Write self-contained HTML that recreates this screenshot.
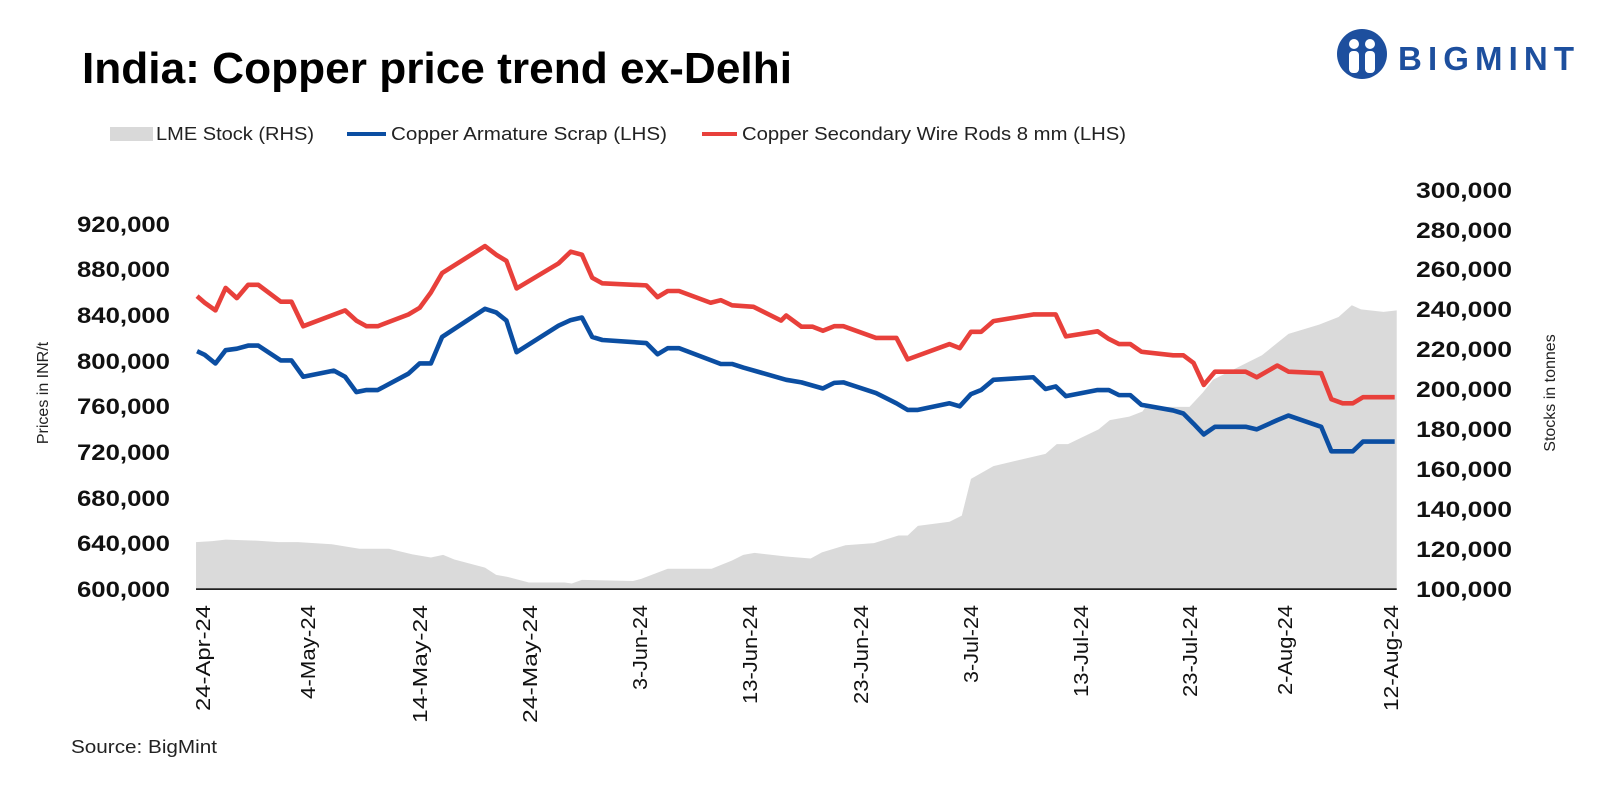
<!DOCTYPE html>
<html><head><meta charset="utf-8"><style>
html,body{margin:0;padding:0;background:#fff;}
svg{display:block;font-family:"Liberation Sans",Arial,sans-serif;}
</style></head><body>
<svg width="1600" height="794" viewBox="0 0 1600 794" xmlns="http://www.w3.org/2000/svg">
<text x="82" y="83" font-size="44" font-weight="bold" fill="#000" textLength="710" lengthAdjust="spacingAndGlyphs">India: Copper price trend ex-Delhi</text>
<g fill="#1d4f9e">
<circle cx="1362" cy="54" r="25"/>
<circle cx="1354" cy="44" r="5" fill="#fff"/><circle cx="1370" cy="44" r="5" fill="#fff"/>
<rect x="1349" y="51" width="10" height="22" rx="4" fill="#fff"/><rect x="1365" y="51" width="10" height="22" rx="4" fill="#fff"/>
<text x="1398" y="70" font-size="33" font-weight="bold" textLength="176" lengthAdjust="spacing">BIGMINT</text>
</g>
<rect x="110" y="127" width="43" height="14" fill="#d9d9d9"/>
<text x="156" y="140" font-size="18" fill="#222" textLength="158" lengthAdjust="spacingAndGlyphs">LME Stock (RHS)</text>
<line x1="347" y1="134" x2="386" y2="134" stroke="#0b4ea2" stroke-width="4"/>
<text x="391" y="140" font-size="18" fill="#222" textLength="276" lengthAdjust="spacingAndGlyphs">Copper Armature Scrap (LHS)</text>
<line x1="702" y1="134" x2="737" y2="134" stroke="#e8403b" stroke-width="4"/>
<text x="742" y="140" font-size="18" fill="#222" textLength="384" lengthAdjust="spacingAndGlyphs">Copper Secondary Wire Rods 8 mm (LHS)</text>
<g transform="scale(1.021)">
<polygon fill="#dadada" points="192,577 192,531 208,530 221,528.5 251,529.5 273,531 292,531 325,533 352,537.5 381,537.5 404,543 422,546 434,543.5 445,548 475,556 486,563 497,565 518,570.5 553,570.5 560,571.5 570,568 620,569 628,567 654,557 697,557 717,549 728,543.5 739,541.5 770,545 794,547 805,541 828,534 856,532 880,524.5 889,524.5 899,515 930,511 942,505 951,469 973,456.5 1024,444.5 1035,435 1046,435 1076,420.5 1087,411.5 1106,408 1119,403 1122,398.5 1165,398.5 1178,384.5 1188,372 1236,348 1262,327 1292,318 1311,310.5 1324,299 1333,303 1355,305.5 1368,304 1368,577"/>
<line x1="192" y1="577" x2="1368" y2="577" stroke="#000" stroke-width="1.5"/>
<polyline fill="none" stroke="#e8403b" stroke-width="4.5" stroke-linejoin="round" points="193,290 200.5,296.5 211,304 221,282 232,292 243,279 253,279 275,295.5 285.5,295.5 297,319.5 338,304 349,314 359,319.5 370,319.5 400,308 411,301.5 422,286.5 433,267.5 475,241 486,249.5 496,255.5 506,282.5 547,258 559,246.5 570,249.5 580,272 590,277.5 633,279.5 644,291 654,285 665,285 696,296.5 706,294 717,299 738,300.5 765,314 770,309 785,320 796,320 806,324 817,319.5 826,319.5 858,331 878,331 889,352 930,337 940,341 951,325 961,325 973,314.5 1012,308 1034,308 1044,329.5 1075,324.5 1086,332 1096,337 1107,337 1118,344.5 1149,348 1159,348 1169,355.5 1179,377 1190,364 1220,364 1231,369.5 1251,358 1262,364 1294,365.5 1304,391 1315,395 1325,395 1335,389 1366,389"/>
<polyline fill="none" stroke="#0b4ea2" stroke-width="4.5" stroke-linejoin="round" points="193,344 200.5,347.5 211,356 221,343 232,341.5 243,338.5 253,338.5 275,353 285.5,353 297,369 327,363 338,369 349,384 359,382 370,382 400,366 411,356 422,356 433,330 475,302.5 486,306 496,314 506,345 547,319 559,313.5 570,311 580,330 590,333 633,336 644,347 654,341 665,341 706,356.5 717,356.5 728,360 770,372 785,374.5 806,380.5 817,375 826,374.5 858,385 878,395 889,401.5 899,401.5 930,395 940,398 951,386 961,382 973,372 1012,369.5 1024,381 1034,378.5 1044,388 1075,382 1086,382 1096,387 1107,387 1118,396.5 1149,402 1159,405 1169,415 1179,425.5 1190,418 1220,418 1231,420.5 1251,411.5 1262,407 1294,418 1304,442 1325,442 1335,432.5 1366,432.5"/>
</g>
<g font-size="22" font-weight="bold" fill="#111">
<text x="77" y="597" textLength="93" lengthAdjust="spacingAndGlyphs">600,000</text>
<text x="77" y="551" textLength="93" lengthAdjust="spacingAndGlyphs">640,000</text>
<text x="77" y="506" textLength="93" lengthAdjust="spacingAndGlyphs">680,000</text>
<text x="77" y="460" textLength="93" lengthAdjust="spacingAndGlyphs">720,000</text>
<text x="77" y="414" textLength="93" lengthAdjust="spacingAndGlyphs">760,000</text>
<text x="77" y="369" textLength="93" lengthAdjust="spacingAndGlyphs">800,000</text>
<text x="77" y="323" textLength="93" lengthAdjust="spacingAndGlyphs">840,000</text>
<text x="77" y="277" textLength="93" lengthAdjust="spacingAndGlyphs">880,000</text>
<text x="77" y="232" textLength="93" lengthAdjust="spacingAndGlyphs">920,000</text>
</g>
<g font-size="22" font-weight="bold" fill="#111">
<text x="1416" y="597" textLength="96" lengthAdjust="spacingAndGlyphs">100,000</text>
<text x="1416" y="557" textLength="96" lengthAdjust="spacingAndGlyphs">120,000</text>
<text x="1416" y="517" textLength="96" lengthAdjust="spacingAndGlyphs">140,000</text>
<text x="1416" y="477" textLength="96" lengthAdjust="spacingAndGlyphs">160,000</text>
<text x="1416" y="437" textLength="96" lengthAdjust="spacingAndGlyphs">180,000</text>
<text x="1416" y="397" textLength="96" lengthAdjust="spacingAndGlyphs">200,000</text>
<text x="1416" y="357" textLength="96" lengthAdjust="spacingAndGlyphs">220,000</text>
<text x="1416" y="317" textLength="96" lengthAdjust="spacingAndGlyphs">240,000</text>
<text x="1416" y="277" textLength="96" lengthAdjust="spacingAndGlyphs">260,000</text>
<text x="1416" y="238" textLength="96" lengthAdjust="spacingAndGlyphs">280,000</text>
<text x="1416" y="198" textLength="96" lengthAdjust="spacingAndGlyphs">300,000</text>
</g>
<text transform="translate(48,393) rotate(-90)" font-size="16" fill="#222" text-anchor="middle">Prices in INR/t</text>
<text transform="translate(1555,393) rotate(-90)" font-size="16" fill="#222" text-anchor="middle">Stocks in tonnes</text>
<g font-size="20" fill="#111" text-anchor="end">
<text transform="translate(210,605) rotate(-90)" textLength="106" lengthAdjust="spacingAndGlyphs">24-Apr-24</text>
<text transform="translate(315,605) rotate(-90)" textLength="94" lengthAdjust="spacingAndGlyphs">4-May-24</text>
<text transform="translate(427,605) rotate(-90)" textLength="118" lengthAdjust="spacingAndGlyphs">14-May-24</text>
<text transform="translate(537,605) rotate(-90)" textLength="118" lengthAdjust="spacingAndGlyphs">24-May-24</text>
<text transform="translate(647,605) rotate(-90)" textLength="85" lengthAdjust="spacingAndGlyphs">3-Jun-24</text>
<text transform="translate(757,605) rotate(-90)" textLength="99" lengthAdjust="spacingAndGlyphs">13-Jun-24</text>
<text transform="translate(868,605) rotate(-90)" textLength="99" lengthAdjust="spacingAndGlyphs">23-Jun-24</text>
<text transform="translate(978,605) rotate(-90)" textLength="78" lengthAdjust="spacingAndGlyphs">3-Jul-24</text>
<text transform="translate(1088,605) rotate(-90)" textLength="92" lengthAdjust="spacingAndGlyphs">13-Jul-24</text>
<text transform="translate(1197,605) rotate(-90)" textLength="92" lengthAdjust="spacingAndGlyphs">23-Jul-24</text>
<text transform="translate(1292,605) rotate(-90)" textLength="90" lengthAdjust="spacingAndGlyphs">2-Aug-24</text>
<text transform="translate(1398,605) rotate(-90)" textLength="106" lengthAdjust="spacingAndGlyphs">12-Aug-24</text>
</g>
<text x="71" y="753" font-size="18" fill="#222" textLength="146" lengthAdjust="spacingAndGlyphs">Source: BigMint</text>
</svg>
</body></html>
